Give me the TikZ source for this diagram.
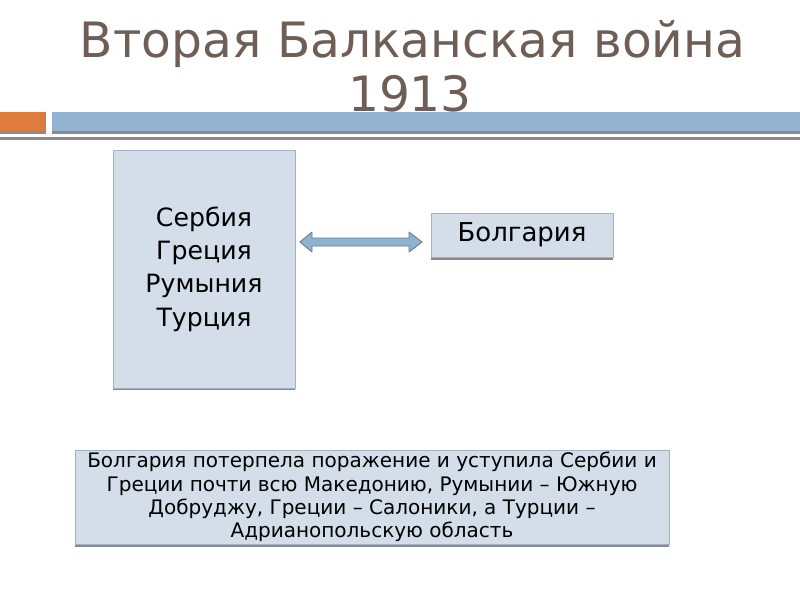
\documentclass[tikz,border=0pt]{standalone}
\usepackage{fontspec}
\setmainfont{DejaVu Sans}
\definecolor{titlec}{HTML}{6F5E55}
\definecolor{boxfill}{HTML}{D3DEEA}
\definecolor{boxline}{HTML}{A3B2C2}
\definecolor{shadowc}{HTML}{8A8A8A}
\definecolor{orangebar}{HTML}{E07B3E}
\definecolor{bluebar}{HTML}{93B3D3}
\definecolor{arrowfill}{HTML}{8FB1D2}
\definecolor{arrowline}{HTML}{6A7E92}
\tikzset{
  infobox/.style={draw=boxline, fill=boxfill, line width=0.8pt, inner sep=0pt, align=center,
    text=black},
  titletext/.style={text=titlec, font=\fontsize{48.7}{54}\selectfont, inner sep=0pt, anchor=base},
  arrowshape/.style={draw=arrowline, fill=arrowfill, line width=0.9pt, line join=round}
}
\begin{document}
\begin{tikzpicture}[x=1pt,y=-1pt]
\useasboundingbox[fill=white] (0,0) rectangle (800,600);
% title
\node[titletext] (t1) at (412.5,57) {Вторая Балканская война};
\node[titletext] (t2) at (410,111) {1913};
% bars
\fill[shadowc] (0,131) rectangle (46,134);
\fill[shadowc] (52,131) rectangle (800,134);
\fill[orangebar] (0,112) rectangle (46,131);
\fill[bluebar] (52,112) rectangle (800,131);
\fill[shadowc] (0,136.5) rectangle (800,139.5);
% shadows
\fill[shadowc] (113,152) rectangle (295,390);
\fill[shadowc] (431,215) rectangle (613,260);
\fill[shadowc] (75,452) rectangle (669,546.5);
% boxes
\node[infobox, minimum width=182pt, minimum height=238pt,
  font=\fontsize{25.2}{33.3}\selectfont] (allies) at (204,269)
  {Сербия\\Греция\\Румыния\\Турция};
\node[infobox, minimum width=182pt, minimum height=44pt,
  font=\fontsize{26}{30}\selectfont] (bulg) at (522,235) {Болгария};
\node[infobox, minimum width=594pt, minimum height=94pt,
  font=\fontsize{20}{23.3}\selectfont] (result) at (372,497)
  {Болгария потерпела поражение и уступила Сербии и\\Греции почти всю Македонию, Румынии – Южную\\Добруджу, Греции – Салоники, а Турции –\\Адрианопольскую область};
% double arrow
\coordinate (al) at (300,242);
\coordinate (ar) at (422,242);
\draw[arrowshape] (al) -- ([xshift=12pt,yshift=-10pt]al) -- ([xshift=12pt,yshift=-4pt]al)
  -- ([xshift=-13pt,yshift=-4pt]ar) -- ([xshift=-13pt,yshift=-10pt]ar) -- (ar)
  -- ([xshift=-13pt,yshift=10pt]ar) -- ([xshift=-13pt,yshift=4pt]ar)
  -- ([xshift=12pt,yshift=4pt]al) -- ([xshift=12pt,yshift=10pt]al) -- cycle;
\end{tikzpicture}
\end{document}
